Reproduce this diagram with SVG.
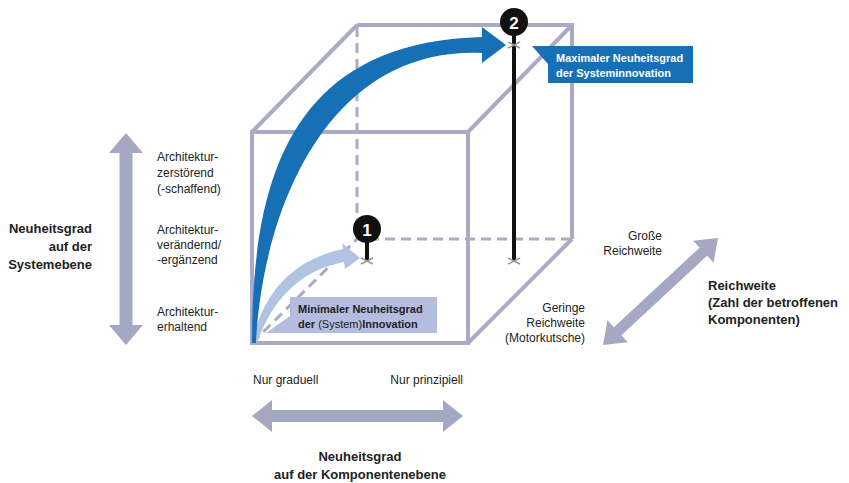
<svg xmlns="http://www.w3.org/2000/svg" width="849" height="483" viewBox="0 0 849 483">
  <style>
    .edge { fill: none; stroke: #a9abc6; stroke-width: 4; stroke-linejoin: miter; }
    .hidden { fill: none; stroke: #a9abc6; stroke-width: 3; stroke-dasharray: 10 6; }
    .axis { fill: #a5a8c2; }
    .t { font-family: "Liberation Sans", Arial, sans-serif; font-size: 12px; fill: #222; }
    .tb { font-family: "Liberation Sans", Arial, sans-serif; font-size: 13px; font-weight: bold; fill: #222; }
    .lbl { font-family: "Liberation Sans", Arial, sans-serif; font-size: 11px; font-weight: bold; }
    .stem { stroke: #111; stroke-width: 4; }
    .cross { stroke: #999; stroke-width: 1.5; }
    .num { font-family: "Liberation Sans", Arial, sans-serif; font-size: 17px; font-weight: bold; fill: #fff; text-anchor: middle; }
  </style>

  <!-- cube wireframe -->
  <g id="cube">
    <path class="hidden" d="M357,27 V239 H572 M252,343 L357,239"/>
    <path class="edge" d="M357,25 H572 V239 M252,132 L357,25 M468,132 L572,25 M468,343 L572,239"/>
    <rect class="edge" x="252" y="132" width="216" height="211"/>
  </g>

  <!-- axis arrows -->
  <g id="connectors">
    <polygon id="axis-system" class="axis" points="126,133 143,153 132.5,153 132.5,325 143,325 126,345 109,325 119.5,325 119.5,153 109,153"/>
    <polygon id="axis-component" class="axis" points="252,416 272,400 272,410 443,410 443,400 463,416 443,432 443,422 272,422 272,432"/>
    <polygon id="axis-range" class="axis" transform="translate(660.5,291.5) rotate(-42.9)" points="-78.5,0 -58.5,-15 -58.5,-5.5 58.5,-5.5 58.5,-15 78.5,0 58.5,15 58.5,5.5 -58.5,5.5 -58.5,15"/>

    <!-- path to minimal novelty -->
    <path id="arrow-min" fill="#b0c3e3" d="M253,343 C260,298 290,260 343,249 L342,243 L360,258 L345,269 L344,262 C300,270 272,300 257,343 Z"/>
    <!-- path to maximal novelty -->
    <path id="arrow-max" fill="#1670b6" d="M252,343 C252,180 290,42 482,37 L482,27 L506,45 L482,63 L482,53 C325,46 262,215 256,343 Z"/>
  </g>

  <!-- marker 1 -->
  <g id="marker-1">
    <line class="stem" x1="367" y1="229" x2="367" y2="261"/>
    <path class="cross" d="M361,258 L373,264 M361,264 L373,258"/>
    <circle cx="367" cy="229" r="14" fill="#111"/>
    <text class="num" x="367" y="235.5">1</text>
  </g>

  <!-- marker 2 -->
  <g id="marker-2">
    <line class="stem" x1="514" y1="22" x2="514" y2="262"/>
    <path class="cross" d="M508,42 L520,48 M508,48 L520,42"/>
    <path class="cross" d="M508,258 L520,264 M508,264 L520,258"/>
    <circle cx="514" cy="22" r="14" fill="#111"/>
    <text class="num" x="514" y="28.5">2</text>
  </g>

  <!-- callout: minimal -->
  <g id="label-min">
    <polygon fill="#b4bde0" points="290,297 437,297 437,333 266,333 290,316"/>
    <text class="lbl" fill="#222" x="298" y="313">Minimaler Neuheitsgrad</text>
    <text class="lbl" fill="#222" x="298" y="328">der <tspan font-weight="normal">(System)</tspan>Innovation</text>
  </g>

  <!-- callout: maximal -->
  <g id="label-max">
    <polygon fill="#1670b6" points="532,46 693,46 693,83 548,83 548,64"/>
    <text class="lbl" fill="#fff" x="556" y="62">Maximaler Neuheitsgrad</text>
    <text class="lbl" fill="#fff" x="556" y="77">der Systeminnovation</text>
  </g>

  <!-- system level scale -->
  <g id="system-scale">
    <text class="t" x="157" y="161">Architektur-</text>
    <text class="t" x="157" y="177">zerstörend</text>
    <text class="t" x="157" y="193">(-schaffend)</text>
    <text class="t" x="157" y="234">Architektur-</text>
    <text class="t" x="157" y="249">verändernd/</text>
    <text class="t" x="157" y="264">-ergänzend</text>
    <text class="t" x="157" y="316">Architektur-</text>
    <text class="t" x="157" y="331">erhaltend</text>
    <text class="tb" x="92" y="233" text-anchor="end">Neuheitsgrad</text>
    <text class="tb" x="92" y="251" text-anchor="end">auf der</text>
    <text class="tb" x="92" y="269" text-anchor="end">Systemebene</text>
  </g>

  <!-- component level scale -->
  <g id="component-scale">
    <text class="t" x="253" y="384">Nur graduell</text>
    <text class="t" x="463" y="384" text-anchor="end">Nur prinzipiell</text>
    <text class="tb" x="360" y="461" text-anchor="middle">Neuheitsgrad</text>
    <text class="tb" x="360" y="479" text-anchor="middle">auf der Komponentenebene</text>
  </g>

  <!-- range scale -->
  <g id="range-scale">
    <text class="t" x="662" y="240" text-anchor="end">Große</text>
    <text class="t" x="662" y="255" text-anchor="end">Reichweite</text>
    <text class="t" x="585" y="312" text-anchor="end">Geringe</text>
    <text class="t" x="585" y="327" text-anchor="end">Reichweite</text>
    <text class="t" x="585" y="342" text-anchor="end">(Motorkutsche)</text>
    <text class="tb" x="708" y="290">Reichweite</text>
    <text class="tb" x="708" y="307">(Zahl der betroffenen</text>
    <text class="tb" x="708" y="324">Komponenten)</text>
  </g>
</svg>
